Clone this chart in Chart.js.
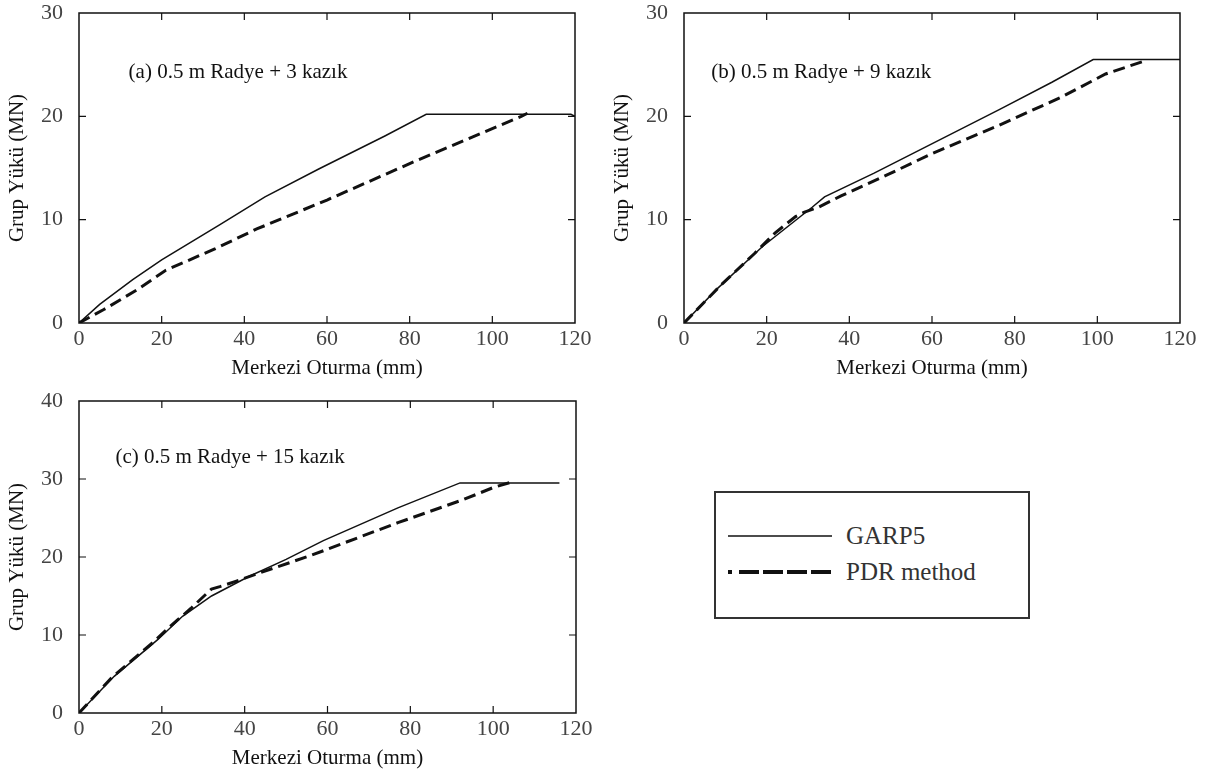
<!DOCTYPE html>
<html>
<head>
<meta charset="utf-8">
<script src="https://cdn.jsdelivr.net/npm/chart.js@4.4.1/dist/chart.umd.min.js"></script>
<style>
    body { margin: 0; background: #fff; }
    #page { position: relative; width: 1215px; height: 776px; overflow: hidden; background: #fff; }
    canvas { position: absolute; }
    #legendBox {
        position: absolute; left: 714px; top: 491px; width: 312px; height: 124px;
        border: 2px solid #333; background: #fff;
        font-family: "Liberation Serif", serif; font-size: 25px; color: #333;
    }
    .legend-row { position: absolute; left: 0; height: 30px; }
    .legend-row svg { position: absolute; left: 12px; top: 0; }
    .legend-row span { position: absolute; left: 130px; top: 0; line-height: 30px; white-space: nowrap; }
</style>
</head>
<body>
<div id="page">
    <canvas id="chartA" width="600" height="390" style="left:0;top:0"></canvas>
    <canvas id="chartB" width="600" height="390" style="left:605px;top:0"></canvas>
    <canvas id="chartC" width="600" height="388" style="left:0;top:388px"></canvas>
    <div id="legendBox">
        <div class="legend-row" style="top:28px">
            <svg width="110" height="30"><line x1="0" y1="15" x2="104" y2="15" stroke="#111" stroke-width="1.5"/></svg>
            <span>GARP5</span>
        </div>
        <div class="legend-row" style="top:64px">
            <svg width="110" height="30">
                <line x1="0" y1="15" x2="4" y2="15" stroke="#111" stroke-width="4"/>
                <line x1="11" y1="15" x2="104" y2="15" stroke="#111" stroke-width="4" stroke-dasharray="20,4"/>
            </svg>
            <span>PDR method</span>
        </div>
    </div>
</div>
<script>
// 轴刻度
const xTicksMax = 120;
const xStep = 20;
const yStep = 10;
const yMaxAB = 30;
const yMaxC = 40;

// (a) 0.5 m Radye + 3 kazık
const aGarpX = [0, 5, 13, 20, 34, 45, 58, 74, 84, 119, 120];
const aGarpY = [0, 1.8, 4.2, 6.1, 9.5, 12.2, 14.9, 18.1, 20.2, 20.2, 20.0];
const aPdrX = [0, 6, 14, 21, 33, 43, 60, 81, 107, 108.5];
const aPdrY = [0, 1.3, 3.2, 5.1, 7.2, 9.1, 11.9, 15.6, 20.0, 20.3];

// (b) 0.5 m Radye + 9 kazık
const bGarpX = [0, 8, 19, 31, 34, 46, 76.5, 89, 99, 120];
const bGarpY = [0, 3.3, 7.4, 11.2, 12.2, 14.5, 20.7, 23.3, 25.5, 25.5];
const bPdrX = [0, 9, 17, 22, 27, 29, 32.5, 38, 49, 60, 76, 91, 102, 111];
const bPdrY = [0, 3.7, 6.7, 8.7, 10.3, 10.7, 11.2, 12.3, 14.3, 16.4, 19.1, 21.8, 24.1, 25.3];

// (c) 0.5 m Radye + 15 kazık
const cGarpX = [0, 8.5, 19, 25, 32, 41, 50, 59, 77, 92, 116];
const cGarpY = [0, 4.7, 9.4, 12.4, 15.0, 17.5, 19.7, 22.1, 26.3, 29.5, 29.5];
const cPdrX = [0, 8, 18, 22, 27, 32, 34, 38, 46, 56, 60, 77, 93, 100, 105];
const cPdrY = [0, 4.6, 9.1, 11.1, 13.4, 15.9, 16.2, 16.9, 18.4, 20.2, 21.0, 24.4, 27.4, 28.9, 29.7];

const xTitle = 'Merkezi Oturma (mm)';
const yTitle = 'Grup Yükü (MN)';

Chart.defaults.font.family = '"Liberation Serif", "Times New Roman", serif';
Chart.defaults.color = '#444';

function toPoints(xs, ys) {
    return xs.map((v, i) => ({ x: v, y: ys[i] }));
}

// 边框 + 内向刻度 + 图内标注
const framePlugin = {
    id: 'frame',
    afterDraw(chart, args, opts) {
        const { ctx, chartArea, scales } = chart;
        const { left, top, right, bottom } = chartArea;
        const x = scales.x, y = scales.y;
        ctx.save();
        ctx.strokeStyle = '#111';
        ctx.lineWidth = 1.5;
        ctx.strokeRect(left, top, right - left, bottom - top);

        ctx.lineWidth = 1.2;
        ctx.beginPath();
        x.ticks.forEach(t => {
            const px = x.getPixelForValue(t.value);
            if (px <= left + 1 || px >= right - 1) return;
            ctx.moveTo(px, bottom); ctx.lineTo(px, bottom - 7);
            ctx.moveTo(px, top); ctx.lineTo(px, top + 7);
        });
        y.ticks.forEach(t => {
            const py = y.getPixelForValue(t.value);
            if (py <= top + 1 || py >= bottom - 1) return;
            ctx.moveTo(left, py); ctx.lineTo(left + 7, py);
            ctx.moveTo(right, py); ctx.lineTo(right - 7, py);
        });
        ctx.stroke();

        if (opts.text) {
            ctx.font = '21px "Liberation Serif"';
            ctx.fillStyle = '#111';
            ctx.textBaseline = 'middle';
            ctx.textAlign = 'left';
            ctx.fillText(opts.text, x.getPixelForValue(opts.x), y.getPixelForValue(opts.y));
        }
        ctx.restore();
    }
};

function makeChart(canvasId, garp, pdr, yMax, note, padding) {
    const ctx = document.getElementById(canvasId).getContext('2d');
    return new Chart(ctx, {
        type: 'line',
        data: {
            datasets: [{
                label: 'GARP5',
                data: garp,
                borderColor: '#111',
                borderWidth: 1.5,
                pointRadius: 0,
                tension: 0
            }, {
                label: 'PDR method',
                data: pdr,
                borderColor: '#111',
                borderWidth: 3,
                borderDash: [12, 6],
                pointRadius: 0,
                tension: 0
            }]
        },
        options: {
            responsive: false,
            animation: false,
            layout: { padding: padding },
            plugins: {
                legend: { display: false },
                tooltip: { enabled: false },
                frame: note
            },
            scales: {
                x: {
                    type: 'linear',
                    min: 0,
                    max: xTicksMax,
                    grid: { display: false, drawTicks: false },
                    border: { display: false },
                    ticks: {
                        stepSize: xStep,
                        padding: 5,
                        color: '#444',
                        font: { size: 22, lineHeight: 1 }
                    },
                    title: {
                        display: true,
                        text: xTitle,
                        color: '#111',
                        font: { size: 21 },
                        padding: { top: 0, bottom: 0 }
                    },
                    afterFit(scale) { scale.height = 58; }
                },
                y: {
                    min: 0,
                    max: yMax,
                    grid: { display: false, drawTicks: true, tickLength: 14 },
                    border: { display: false },
                    ticks: {
                        stepSize: yStep,
                        padding: 2,
                        color: '#444',
                        font: { size: 22, lineHeight: 1 }
                    },
                    title: {
                        display: true,
                        text: yTitle,
                        color: '#111',
                        font: { size: 21 },
                        padding: { top: 5, bottom: 0 }
                    },
                    afterFit(scale) { scale.width = 79; }
                }
            }
        },
        plugins: [framePlugin]
    });
}

makeChart('chartA', toPoints(aGarpX, aGarpY), toPoints(aPdrX, aPdrY), yMaxAB,
    { text: '(a) 0.5 m Radye + 3 kazık', x: 12, y: 24.2 },
    { top: 13, right: 25, bottom: 9, left: 0 });

makeChart('chartB', toPoints(bGarpX, bGarpY), toPoints(bPdrX, bPdrY), yMaxAB,
    { text: '(b) 0.5 m Radye + 9 kazık', x: 6.6, y: 24.2 },
    { top: 13, right: 25, bottom: 9, left: 0 });

makeChart('chartC', toPoints(cGarpX, cGarpY), toPoints(cPdrX, cPdrY), yMaxC,
    { text: '(c) 0.5 m Radye + 15 kazık', x: 8.8, y: 32.8 },
    { top: 13, right: 24, bottom: 5, left: 0 });
</script>
</body>
</html>
